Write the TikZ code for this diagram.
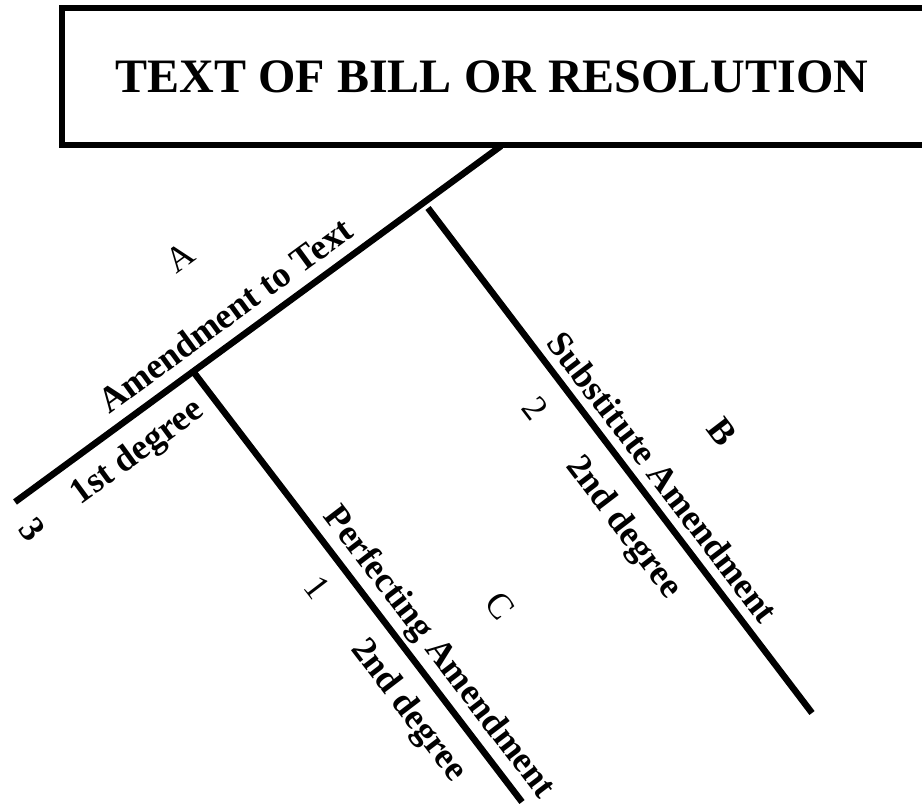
\documentclass[tikz,border=0pt]{standalone}
\usepackage{fontspec}
\setmainfont{Liberation Serif}
\begin{document}
\begin{tikzpicture}[x=1pt,y=-1pt,
  rule/.style={line width=6.5pt, line cap=butt},
  lbl/.style={font=\fontsize{36}{40}\selectfont\bfseries, inner sep=0pt},
  plain/.style={font=\fontsize{36}{40}\selectfont, inner sep=0pt},
  title/.style={font=\fontsize{48}{52}\selectfont\bfseries, inner sep=0pt, anchor=base}]
\useasboundingbox (0,0) rectangle (922,806);
\clip (0,0) rectangle (922,806);
% box
\draw[rule] (62,8) rectangle (960,145);
\node[title] (ttl) at (492,92) {TEXT OF BILL OR RESOLUTION};
% lines
\coordinate (m0) at (15,502);
\coordinate (m1) at (501,146);
\coordinate (j1) at (192,370);
\coordinate (p1) at (522,802);
\coordinate (j2) at (428,208);
\coordinate (s1) at (812,713);
\draw[rule] (m0) -- (m1);
\draw[rule] (j1) -- (p1);
\draw[rule] (j2) -- (s1);
% main line labels
\node[lbl, rotate=36.2] (amend) at (225,315) {Amendment to Text};
\node[lbl, rotate=36.2] (first) at (138,453) {1st degree};
\node[plain, rotate=36.2] (A) at (180,257) {A};
\node[lbl, rotate=-52.6] (three) at (32,530) {3};
% substitute labels
\node[lbl, rotate=-52.6] (subst) at (663,477) {Substitute Amendment};
\node[lbl, rotate=-52.6] (secondB) at (623,528) {2nd degree};
\node[plain, rotate=-52.6] (two) at (535,408) {2};
\node[lbl, rotate=-52.6] (B) at (722,432) {B};
% perfecting labels
\node[lbl, rotate=-52.6] (perf) at (438,653) {Perfecting Amendment};
\node[lbl, rotate=-52.6] (secondC) at (408,711) {2nd degree};
\node[plain, rotate=-52.6] (one) at (317,587) {1};
\node[plain, rotate=-52.6] (C) at (500,606) {C};
\end{tikzpicture}
\end{document}
